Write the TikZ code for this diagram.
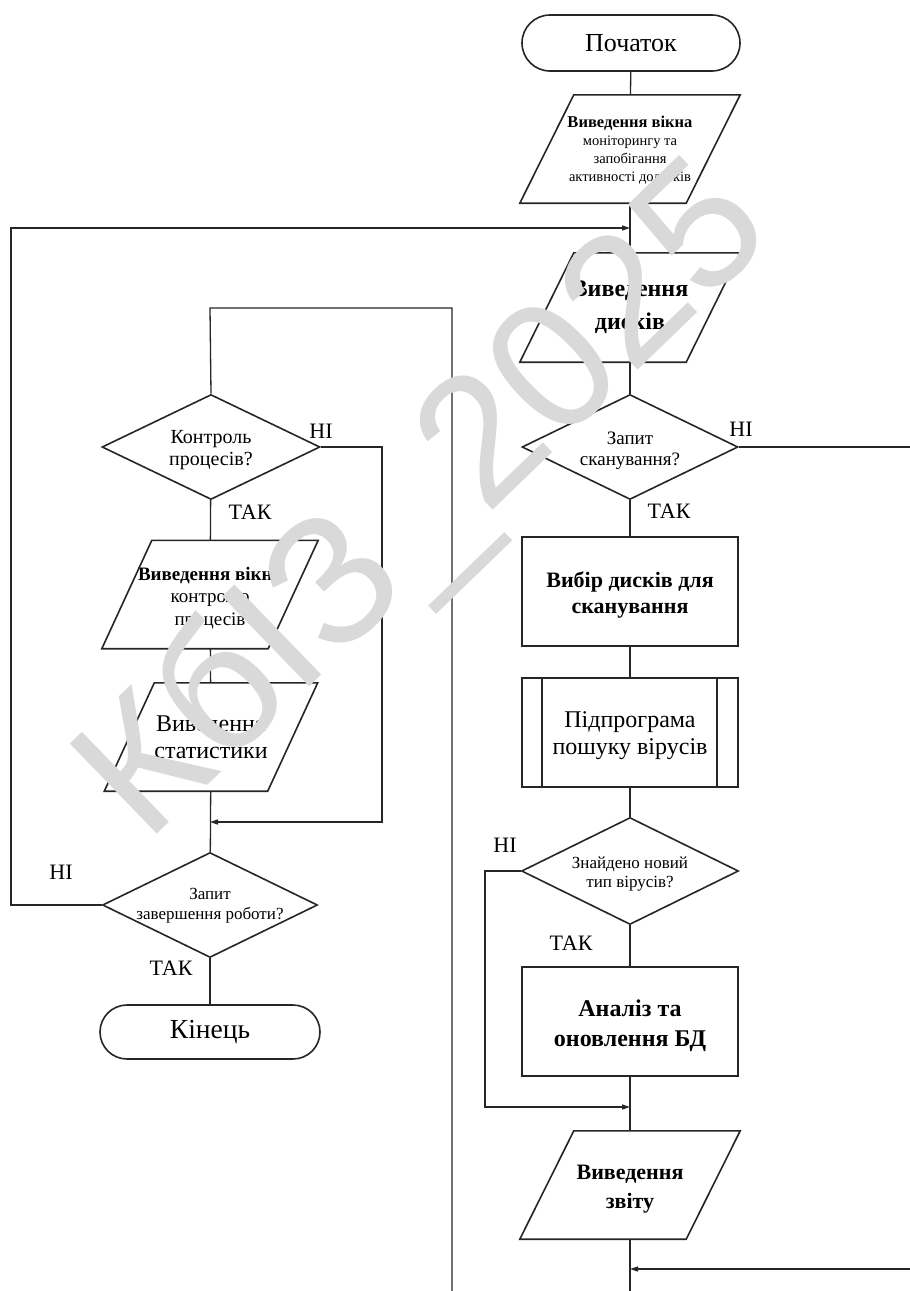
\documentclass[tikz,border=0pt]{standalone}
\usepackage{fontspec}
\setmainfont{Liberation Serif}
\newfontfamily\wmfont{Liberation Sans}
\usetikzlibrary{shapes.geometric,shapes.misc,arrows.meta}
\newcommand\fs[2]{\fontsize{#1}{#2}\selectfont}
\newcommand\paral[2]{\draw[shp] ([xshift=-#2pt]#1.south west) -- ([xshift=-#2pt]#1.south east) -- ([xshift=#2pt]#1.north east) -- ([xshift=#2pt]#1.north west) -- cycle;}
\begin{document}
\begin{tikzpicture}[x=1pt,y=-1pt,
  every node/.style={inner sep=0pt, align=center},
  ln/.style={line width=1.3pt, draw=black!85},
  arr/.style={ln, -{Triangle[length=8pt,width=5pt]}},
  shp/.style={draw=black!85, line width=1.6pt},
  term/.style={shp, rounded rectangle, minimum width=218pt, minimum height=56pt},
  proc/.style={shp, rectangle, minimum width=216pt, minimum height=109pt},
  dia/.style={shp, diamond, minimum width=216pt, minimum height=105pt},
  iobody/.style={rectangle, minimum width=166pt, minimum height=108pt},
  txt/.style={rectangle},
  lbl/.style={font=\fs{22}{24}},
]
\useasboundingbox (0,0) rectangle (910,1291);
\fill[white] (0,0) rectangle (910,1291);

% ---------- right column ----------
\node[term, font=\fs{26}{28}] (start) at (631,43) {Початок};
\node[iobody] (io1) at (630,149) {};
\paral{io1}{27}
\node[txt, font=\fs{14.5}{18}] (io1t) at (630,150) {{\fs{16.5}{18}\bfseries Виведення вікна}\\ моніторингу та\\ запобігання\\ активності додатків};
\node[iobody, minimum height=109pt, font=\fs{24}{33}\bfseries] (io2) at (630,307.5) {Виведення\\ дисків};
\paral{io2}{27}
\node[dia] (dec1) at (630,447) {};
\node[txt, font=\fs{19}{21}] (dec1t) at (630,451) {Запит\\ сканування?};
\node[proc] (proc1) at (630,591.5) {};
\node[txt, font=\fs{22}{26}\bfseries] (proc1t) at (630,595) {Вибір дисків для\\ сканування};
\node[proc] (sub) at (630,732.5) {};
\node[txt, font=\fs{24}{27}] (subt) at (630,736) {Підпрограма\\ пошуку вірусів};
\draw[shp] ([xshift=21pt]sub.north west) -- ([xshift=21pt]sub.south west);
\draw[shp] ([xshift=-22pt]sub.north east) -- ([xshift=-22pt]sub.south east);
\node[dia, minimum width=217pt, minimum height=107pt] (dec2) at (630,871) {};
\node[txt, font=\fs{17}{19}] (dec2t) at (630,874) {Знайдено новий\\ тип вірусів?};
\node[proc] (proc2) at (630,1021.5) {};
\node[txt, font=\fs{24}{30}\bfseries] (proc2t) at (630,1026) {Аналіз та\\ оновлення БД};
\node[iobody] (io3) at (630,1185) {};
\paral{io3}{27}
\node[txt, font=\fs{22}{29}\bfseries] (io3t) at (630,1189) {Виведення\\ звіту};

% ---------- left column ----------
\node[dia, minimum width=218pt] (dec3) at (211,447) {};
\node[txt, font=\fs{20}{22}] (dec3t) at (211,450) {Контроль\\ процесів?};
\node[iobody, minimum width=166pt] (io4) at (210,594.5) {};
\paral{io4}{25}
\node[txt, font=\fs{19}{22.5}] (io4t) at (210,598) {{\bfseries Виведення вікна}\\ контролю\\ процесів};
\node[iobody, minimum width=163pt, font=\fs{24}{27}] (io5) at (211,737) {Виведення\\ статистики};
\paral{io5}{25}
\node[dia, minimum width=215pt] (dec4) at (210,905) {};
\node[txt, font=\fs{17}{20}] (dec4t) at (210,906) {Запит\\ завершення роботи?};
\node[term, minimum width=220pt, minimum height=54pt, font=\fs{27.5}{29}] (end) at (210,1032) {Кінець};

% ---------- coordinates ----------
\coordinate (m1) at (630,228);
\coordinate (m2) at (630,1269);
\coordinate (m3) at (630,1107);
\coordinate (m4) at (210,822);
\coordinate (botR) at (630,1295);
\coordinate (botL) at (452,1295);
\coordinate (topL) at (210,308);

% ---------- connectors ----------
\draw[ln] (start) -- (io1);
\draw[ln] (io1) -- (io2);
\draw[ln] (io2) -- (dec1);
\draw[ln] (dec1) -- (proc1);
\draw[ln] (proc1) -- (sub);
\draw[ln] (sub) -- (dec2);
\draw[ln] (dec2) -- (proc2);
\draw[ln] (proc2) -- (io3);
\draw[ln] (io3) -- (botR);

\draw[ln] (dec3) -- (io4);
\draw[ln] (io4) -- (io5);
\draw[ln] (io5) -- (dec4);
\draw[ln] (dec4) -- (end);
\draw[ln] (dec3.north) -- (topL) -- (topL -| botL) -- (botL);

\draw[arr] (dec4.west) -- (11,905) -- (11,228) -- (m1);
\draw[arr] (dec1.east) -- (913,447) -- (913,1269) -- (m2);
\draw[arr] (dec2.west) -- (485,871) -- (485,1107) -- (m3);
\draw[arr] (dec3.east) -- (382,447) -- (382,822) -- (m4);

% ---------- labels ----------
\node[lbl] (l1) at (741,429) {НІ};
\node[lbl] (l2) at (669,511) {ТАК};
\node[lbl] (l3) at (321,431) {НІ};
\node[lbl] (l4) at (250,512) {ТАК};
\node[lbl] (l5) at (505,845) {НІ};
\node[lbl] (l6) at (571,943) {ТАК};
\node[lbl] (l7) at (61,872) {НІ};
\node[lbl] (l8) at (171,968) {ТАК};

% ---------- watermark ----------
\node[rotate=44, text=black!15, font=\wmfont\fs{182}{182}] (wm) at (428,505) {КбІЗ\_2025};
\end{tikzpicture}
\end{document}
